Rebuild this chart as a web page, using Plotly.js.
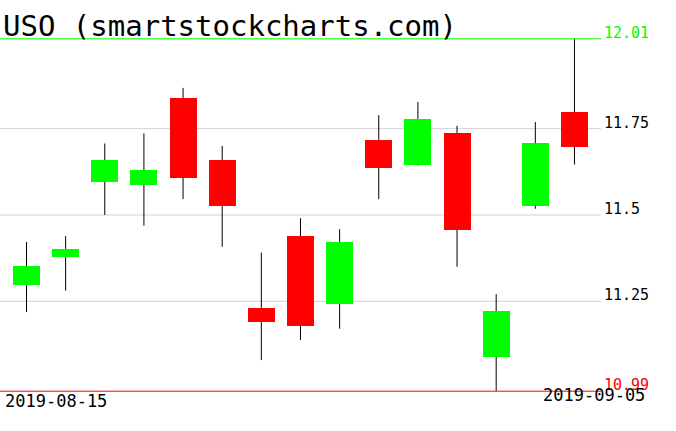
<!DOCTYPE html>
<html>
<head>
<meta charset="utf-8">
<script src="https://cdn.plot.ly/plotly-3.0.1.min.js"></script>
<style>html,body{margin:0;padding:0;background:#fff;}#chart{width:676px;height:431px;}</style>
</head>
<body>
<div id="chart"></div>
<script>
const dates = ['2019-08-15','2019-08-16','2019-08-19','2019-08-20','2019-08-21','2019-08-22','2019-08-23','2019-08-26','2019-08-27','2019-08-28','2019-08-29','2019-08-30','2019-09-03','2019-09-04','2019-09-05'];
const opens  = [11.297, 11.378, 11.596, 11.587, 11.839, 11.659, 11.231, 11.439, 11.242, 11.717, 11.646, 11.737, 11.090, 11.527, 11.798];
const highs  = [11.422, 11.439, 11.707, 11.736, 11.868, 11.700, 11.391, 11.491, 11.459, 11.789, 11.827, 11.758, 11.271, 11.769, 12.01];
const lows   = [11.219, 11.281, 11.500, 11.469, 11.546, 11.408, 11.080, 11.138, 11.171, 11.546, 11.644, 11.350, 10.99, 11.518, 11.646];
const closes = [11.352, 11.402, 11.659, 11.630, 11.608, 11.526, 11.190, 11.179, 11.422, 11.637, 11.778, 11.457, 11.222, 11.708, 11.698];
const gridVals = [11.25, 11.5, 11.75];
const gridText = ['11.25', '11.5', '11.75'];
const titleText = 'USO (smartstockcharts.com)';

const UP = '#00ff00', DOWN = '#ff0000';
const wx = [], wy = [];
dates.forEach((d, i) => {
  const bTop = Math.max(opens[i], closes[i]), bBot = Math.min(opens[i], closes[i]);
  wx.push(d, d, null, d, d, null);
  wy.push(lows[i], bBot, null, bTop, highs[i], null);
});

const wicks = {
  type: 'scatter', mode: 'lines', x: wx, y: wy,
  line: {color: '#000', width: 1}, hoverinfo: 'skip', connectgaps: false
};
const bodies = {
  type: 'bar', x: dates,
  base: dates.map((d, i) => Math.min(opens[i], closes[i])),
  y: dates.map((d, i) => Math.abs(closes[i] - opens[i])),
  width: 0.69,
  marker: {color: dates.map((d, i) => closes[i] >= opens[i] ? UP : DOWN), line: {width: 0}}
};

const hi = Math.max(...highs), lo = Math.min(...lows);
const shapes = gridVals.map(v => ({type: 'line', xref: 'paper', x0: 0, x1: 1, yref: 'y', y0: v, y1: v, line: {color: '#d3d3d3', width: 1}, layer: 'below'}));
shapes.push({type: 'line', xref: 'paper', x0: 0, x1: 1, yref: 'y', y0: hi, y1: hi, line: {color: UP, width: 1}});
shapes.push({type: 'line', xref: 'paper', x0: 0, x1: 1, yref: 'y', y0: lo, y1: lo, line: {color: DOWN, width: 1}});

const labFont = {family: 'DejaVu Sans Mono', size: 15, color: '#000'};
const annotations = [];
const addLab = (v, t, c) => annotations.push({xref: 'paper', x: 1, xanchor: 'left', xshift: 1, yref: 'y', y: v, yanchor: 'bottom', yshift: -5, text: t, showarrow: false, font: Object.assign({}, labFont, {color: c})});
addLab(hi, hi.toFixed(2), UP);
gridVals.forEach((v, i) => addLab(v, gridText[i], '#000'));
addLab(lo, lo.toFixed(2), DOWN);
const dateFont = {family: 'DejaVu Sans Mono', size: 17, color: '#000'};
annotations.push({xref: 'paper', x: 0, xanchor: 'left', xshift: 3, yref: 'paper', y: 0, yanchor: 'bottom', yshift: 18, text: dates[0], showarrow: false, font: dateFont});
annotations.push({xref: 'paper', x: 1, xanchor: 'right', xshift: 46, yref: 'paper', y: 0, yanchor: 'bottom', yshift: 24, text: dates[dates.length - 1], showarrow: false, font: dateFont});

const layout = {
  width: 676, height: 431,
  margin: {l: 0, r: 75, t: 0, b: 0},
  paper_bgcolor: '#fff', plot_bgcolor: '#fff',
  showlegend: false,
  title: {text: titleText, font: {family: 'DejaVu Sans Mono', size: 29, color: '#000'}, xref: 'container', x: 3 / 676, xanchor: 'left', yref: 'container', y: 1 - 16 / 431, yanchor: 'top'},
  xaxis: {type: 'category', range: [-0.677, 14.678], visible: false, fixedrange: true},
  yaxis: {range: [10.8748, 12.1223], visible: false, fixedrange: true},
  shapes: shapes,
  annotations: annotations,
  bargap: 0
};
Plotly.newPlot('chart', [wicks, bodies], layout, {staticPlot: true, displayModeBar: false});
</script>
</body>
</html>
